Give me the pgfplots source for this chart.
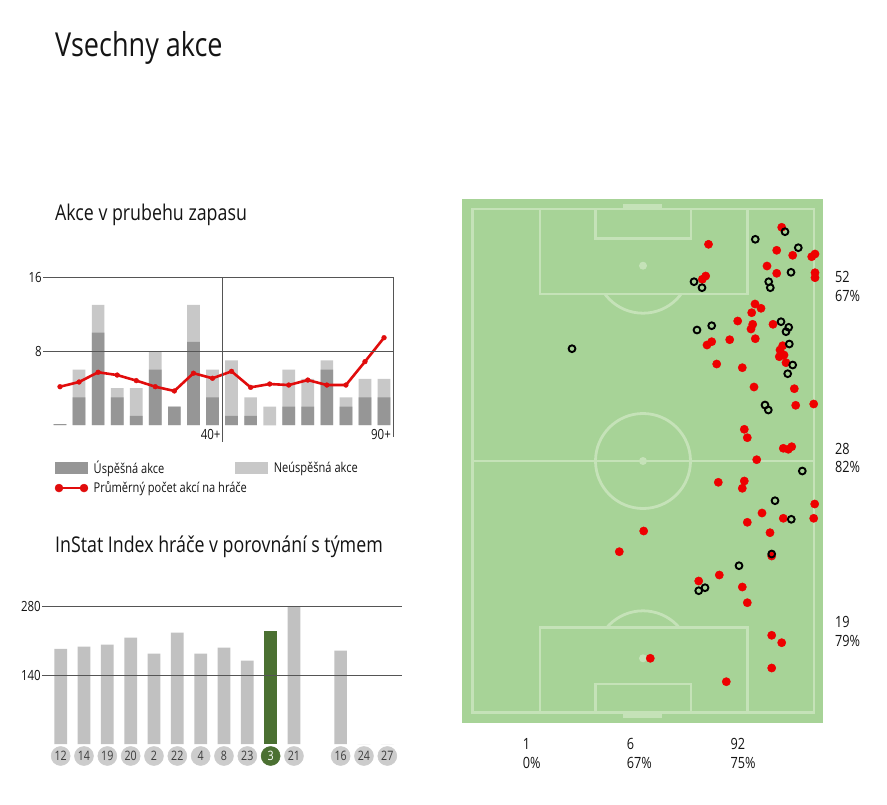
\documentclass[border=0pt]{standalone}
\usepackage{fontspec}
\setmainfont[FakeStretch=0.82]{Open Sans}
\usepackage{pgfplots}
\pgfplotsset{compat=1.18}
\definecolor{darkbar}{RGB}{150,150,150}
\definecolor{lightbar}{RGB}{200,200,200}
\definecolor{redline}{RGB}{225,12,12}
\definecolor{gridc}{RGB}{85,85,85}
\definecolor{pitch}{RGB}{167,211,151}
\definecolor{pline}{RGB}{197,226,184}
\definecolor{dotred}{RGB}{238,0,0}
\definecolor{tgreen}{RGB}{75,112,50}
\definecolor{circgray}{RGB}{204,204,204}
\definecolor{bargray}{RGB}{193,193,193}
\definecolor{numgray}{RGB}{60,60,60}
\definecolor{txt}{RGB}{20,20,20}
\begin{document}
\begin{tikzpicture}
\begin{scope}[x=1pt,y=-1pt]
\path[use as bounding box, fill=white] (0,0) rectangle (887,805);
\node[anchor=base west, inner sep=0pt, text=txt, font=\fontsize{33}{36}\selectfont] at (55,57) {Vsechny akce};
\node[anchor=base west, inner sep=0pt, text=txt, font=\fontsize{21.7}{24}\selectfont] at (55,221) {Akce v prubehu zapasu};
\node[anchor=base west, inner sep=0pt, text=txt, font=\fontsize{21.7}{24}\selectfont] at (55,552) {InStat Index hráče v porovnání s týmem};
\begin{scope}[every node/.style={anchor=base west, inner sep=0pt, text=txt, font=\fontsize{15.5}{18}\selectfont}]
\node at (835,282.7) {52};
\node at (835,301.4) {67\%};
\node at (835,454.7) {28};
\node at (835,472.7) {82\%};
\node at (835,627.7) {19};
\node at (835,646.0) {79\%};
\node at (522.7,749.4) {1};
\node at (522.7,768.0) {0\%};
\node at (626.7,749.4) {6};
\node at (626.7,768.0) {67\%};
\node at (730.3,749.4) {92};
\node at (730.3,768.0) {75\%};
\end{scope}
\end{scope}

% ---------- top chart ----------
\begin{axis}[
  at={(43pt,-425pt)}, anchor=south west, scale only axis,
  width=350pt, height=148pt,
  xmin=0.108, xmax=18.47, ymin=0, ymax=16,
  axis line style={draw=none},
  xtick=\empty, ytick={8,16}, yticklabels={8,16},
  ymajorgrids, grid style={draw=gridc, line width=0.8pt},
  major tick length=0pt, axis on top,
  yticklabel style={font=\fontsize{14}{16}\selectfont, anchor=east, inner sep=1pt, text=txt},
  clip=false,
  legend columns=2,
  legend style={at={(rel axis cs:0.0226,-0.213)}, anchor=north west, draw=none, fill=none,
    font=\fontsize{13.5}{16}\selectfont, text=txt,
    /tikz/every even column/.append style={column sep=69pt},
    row sep=3pt},
  legend cell align=left,
]
\addlegendimage{legend image code/.code={\fill[darkbar] (0pt,-5.5pt) rectangle (32pt,5.5pt); \path (36pt,0pt);}}
\addlegendentry{Úspěšná akce}
\addlegendimage{legend image code/.code={\fill[lightbar] (0pt,-5.5pt) rectangle (32pt,5.5pt); \path (36pt,0pt);}}
\addlegendentry{Neúspěšná akce}
\addlegendimage{legend image code/.code={\draw[redline, line width=2.8pt] (0pt,0pt) -- (32pt,0pt); \fill[redline] (3.5pt,0pt) circle (4pt); \fill[redline] (28.5pt,0pt) circle (4pt); \path (36pt,0pt);}}
\addlegendentry{\makebox[0pt][l]{Průměrný počet akcí na hráče}}
% totals (light)
\addplot[ybar, bar width=12.7pt, bar shift=0pt, color=lightbar, fill=lightbar, draw=none, forget plot] coordinates {
(1,0.1)(2,6)(3,13)(4,4)(5,4)(6,8)(7,2)(8,13)(9,6)(10,7)(11,3)(12,2)(13,6)(14,5)(15,7)(16,3)(17,5)(18,5)};
% successful (dark)
\addplot[ybar, bar width=12.7pt, bar shift=0pt, color=darkbar, fill=darkbar, draw=none, forget plot] coordinates {
(1,0.1)(2,3)(3,10)(4,3)(5,1)(6,6)(7,2)(8,9)(9,3)(10,1)(11,1)(12,0)(13,2)(14,2)(15,6)(16,2)(17,3)(18,3)};
% average line
\addplot[redline, line width=2.6pt, mark=*, mark size=2.4pt, mark options={fill=redline, draw=redline, line width=0.4pt}, forget plot] coordinates {
(1,4.14)(2,4.65)(3,5.7)(4,5.4)(5,4.8)(6,4.14)(7,3.68)(8,5.6)(9,5.05)(10,5.8)(11,4.07)(12,4.43)(13,4.32)(14,4.86)(15,4.32)(16,4.32)(17,6.85)(18,9.44)};
\draw[gridc, line width=0.8pt] (axis cs:9.52,16) -- (axis cs:9.52,-1.84);
\draw[gridc, line width=0.8pt] (axis cs:18.47,16) -- (axis cs:18.47,-1.3);
\node[anchor=east, inner sep=1pt, text=txt, font=\fontsize{14}{16}\selectfont] at (axis cs:9.48,-1.0) {40+};
\node[anchor=east, inner sep=1pt, text=txt, font=\fontsize{14}{16}\selectfont] at (axis cs:18.42,-1.0) {90+};
\end{axis}

% ---------- bottom chart ----------
\begin{axis}[
  at={(42pt,-744pt)}, anchor=south west, scale only axis,
  width=360pt, height=138pt,
  xmin=-0.80, xmax=14.63, ymin=0, ymax=280,
  axis line style={draw=none},
  xtick=\empty, ytick={140,280}, yticklabels={140,280},
  ymajorgrids, grid style={draw=gridc, line width=0.8pt},
  major tick length=0pt, axis on top,
  yticklabel style={font=\fontsize{14}{16}\selectfont, anchor=east, inner sep=1pt, text=txt},
  clip=false,
]
\addplot[ybar, bar width=12.7pt, bar shift=0pt, color=bargray, fill=bargray, draw=none] coordinates {
(0,193)(1,197.5)(2,201.5)(3,215.7)(4,183.3)(5,225.9)(6,183.3)(7,195.5)(8,169)(10,280)(12,189.4)(13,0)(14,0)};
\addplot[ybar, bar width=12.7pt, bar shift=0pt, color=tgreen, fill=tgreen, draw=none] coordinates {(9,230)};
\addplot[only marks, color=circgray, mark=*, mark size=9.5pt, mark options={solid, fill=circgray, draw=circgray, line width=0.5pt},
  point meta=explicit symbolic, nodes near coords,
  nodes near coords style={anchor=center, inner sep=0pt, text=numgray, font=\fontsize{13}{15}\selectfont}]
  coordinates {
(0,-24.35)[12] (1,-24.35)[14] (2,-24.35)[19] (3,-24.35)[20] (4,-24.35)[2] (5,-24.35)[22]
(6,-24.35)[4] (7,-24.35)[8] (8,-24.35)[23] (10,-24.35)[21] (12,-24.35)[16] (13,-24.35)[24] (14,-24.35)[27]};
\addplot[only marks, color=tgreen, mark=*, mark size=9.5pt, mark options={solid, fill=tgreen, draw=tgreen, line width=0.5pt},
  point meta=explicit symbolic, nodes near coords,
  nodes near coords style={anchor=center, inner sep=0pt, text=white, font=\fontsize{13}{15}\selectfont}]
  coordinates {(9,-24.35)[3]};
\end{axis}

% ---------- pitch ----------
\begin{axis}[
  at={(462pt,-723pt)}, anchor=south west, scale only axis,
  width=361pt, height=524pt,
  xmin=462, xmax=823, ymin=199, ymax=723, y dir=reverse,
  hide axis, clip=false,
]
\fill[pitch] (axis cs:462,199) rectangle (axis cs:823,723);
\begin{scope}[pline, line width=2.8pt]
\draw (axis cs:472.3,209) rectangle (axis cs:814,712.3);
\draw (axis cs:472.3,461) -- (axis cs:814,461);
\draw (axis cs:643,461) circle[radius=47.5pt];
\fill (axis cs:643,461) circle[radius=4pt];
\draw (axis cs:540,209) rectangle (axis cs:747.3,294);
\draw (axis cs:595.7,209) rectangle (axis cs:691,238.3);
\fill (axis cs:643,265.7) circle[radius=4pt];
\fill (axis cs:623,204) rectangle (axis cs:662,209);
\draw (axis cs:540,627.3) rectangle (axis cs:747.3,712.3);
\draw (axis cs:595.7,684) rectangle (axis cs:691,712.3);
\fill (axis cs:643,658.3) circle[radius=4pt];
\fill (axis cs:623,712.3) rectangle (axis cs:662,717.7);
\end{scope}
\begin{scope}
\clip (axis cs:540,295.4) rectangle (axis cs:747,340);
\draw[pline, line width=2.8pt] (axis cs:643,265.7) circle[radius=47.5pt];
\end{scope}
\begin{scope}
\clip (axis cs:540,580) rectangle (axis cs:747,625.9);
\draw[pline, line width=2.8pt] (axis cs:643,658.3) circle[radius=47.5pt];
\end{scope}
\addplot[only marks, color=dotred, mark=*, mark size=4.1pt, mark options={solid, fill=dotred, draw=dotred, line width=0.5pt}] coordinates {
(781.7,227.3)(708.5,244.3)(776.7,250.3)(792.7,255.3)(811.7,256.7)(815,254)(767,266)(776.7,273.3)
(815,272.7)(815,277.7)(705.7,276)(702.3,279.3)(755,304)(761,308.3)(751.7,312.7)(737.7,321)
(752.7,324.3)(751,329)(773,324.3)(729.7,339.7)(755.3,338.7)(711.7,341.7)(707,345)(782.7,345.7)
(780,350)(779.3,356.7)(784,355)(786,362.7)(716.7,364)(742.3,367.7)(754,387)(794.3,388.7)
(795.7,405.3)(813.7,404)(744.3,429.3)(747.3,437.7)(783.3,448.3)(788.3,449.3)(791.7,446.7)
(756.7,459.7)(718.3,482.3)(744.3,481)(742.3,488.3)(814.7,504)(762,513)(783.3,518.3)(813.7,518.3)
(747.3,522.3)(770,532.7)(643.7,531)(619.3,551.7)(771.7,556)(719.3,575)(698.7,581)(742.3,587)
(747.3,602.7)(771.7,635.3)(781.7,642.7)(650.3,658.3)(771.7,668)(726.3,681.7)};
\addplot[only marks, color=black, mark=o, mark size=3.4pt, mark options={solid, draw=black, line width=1.9pt}] coordinates {
(785,231.7)(755.3,239.3)(798.3,247.7)(791,272.3)(694,281.7)(702,287.7)(768.7,281.7)(770.3,287.7)
(781,321.7)(788.7,327.3)(786,331.7)(697,330)(711.7,325.7)(572,348.7)(789.3,344)(792.7,365)
(787.7,373.7)(765,405)(768.3,410)(802.3,471)(775,500.7)(791.3,519.3)(771.7,554)(739,565.7)
(705,587.7)(698.7,590.7)};
\end{axis}
\end{tikzpicture}
\end{document}
